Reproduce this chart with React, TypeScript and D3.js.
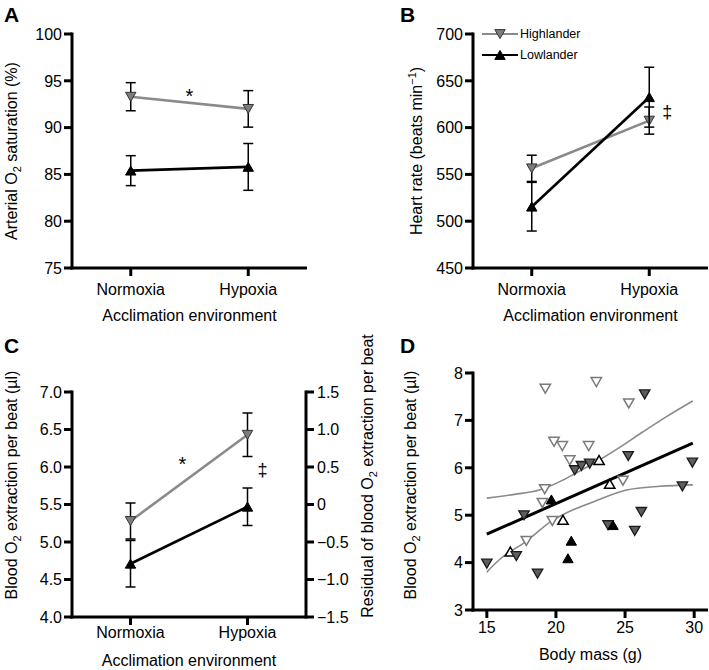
import React from "react";
import * as d3 from "d3";

const categories = ["Normoxia", "Hypoxia"];
const groups = ["Highlander", "Lowlander"];

// Panel A – arterial O2 saturation (%)
const satHigh = [93.3, 92.0];
const satHighErr = [1.5, 1.95];
const satLow = [85.4, 85.8];
const satLowErr = [1.6, 2.5];
const satTicks = [75, 80, 85, 90, 95, 100];

// Panel B – heart rate (beats min-1)
const hrHigh = [556.5, 607.5];
const hrHighErr = [14, 14.5];
const hrLow = [515.5, 632.5];
const hrLowErr = [26, 32];
const hrTicks = [450, 500, 550, 600, 650, 700];

// Panel C – blood O2 extraction per beat (µl)
const extHigh = [5.28, 6.43];
const extHighErr = [0.24, 0.29];
const extLow = [4.71, 5.47];
const extLowErr = [0.31, 0.25];
const extTicks = [4.0, 4.5, 5.0, 5.5, 6.0, 6.5, 7.0];
const residTicks = [-1.5, -1.0, -0.5, 0, 0.5, 1.0, 1.5];

// Panel D – scatter (body mass g, extraction µl)
const highNormX = [19.23, 22.92, 25.27, 19.86, 20.46, 22.37, 21.0, 19.19, 19.02, 24.85, 19.74, 17.86];
const highNormY = [7.67, 7.81, 7.36, 6.55, 6.46, 6.46, 6.16, 5.55, 5.26, 5.73, 4.88, 4.46];
const highHypX = [26.42, 21.36, 21.84, 22.44, 25.23, 29.87, 29.15, 17.69, 26.18, 25.7, 23.77, 17.13, 15.0, 18.67];
const highHypY = [7.55, 5.95, 6.04, 6.09, 6.25, 6.11, 5.61, 5.0, 5.07, 4.67, 4.79, 4.14, 3.98, 3.77];
const lowNormX = [23.12, 23.89, 20.51, 16.7];
const lowNormY = [6.16, 5.66, 4.9, 4.23];
const lowHypX = [19.67, 24.13, 21.11, 20.87];
const lowHypY = [5.33, 4.79, 4.46, 4.09];
const regX = [15, 29.9];
const regY = [4.6, 6.52];
const ciUpX = [15, 17, 18.8, 20.5, 21.4, 22.7, 24.5, 26.3, 28, 29.9];
const ciUpY = [5.36, 5.44, 5.53, 5.74, 5.88, 6.09, 6.41, 6.76, 7.08, 7.41];
const ciLoX = [15, 15.9, 17.9, 19.7, 21.2, 22.7, 25.1, 27.5, 29.9];
const ciLoY = [3.8, 4.06, 4.46, 4.88, 5.11, 5.28, 5.53, 5.61, 5.64];
const massTicks = [15, 20, 25, 30];
const dExtTicks = [3, 4, 5, 6, 7, 8];

const FONT = "Liberation Sans, Arial, Helvetica, sans-serif";
const GRAY_LINE = "#8a8a8a";
const GRAY_FILL = "#7d7d7d";
const DARK_FILL = "#5e5e5e";

const triUp = "M0,-4.6L5.2,4.4L-5.2,4.4Z";
const triDown = "M0,4.6L5.2,-4.4L-5.2,-4.4Z";

function ErrBar({ x, y1, y2 }: { x: number; y1: number; y2: number }) {
  return (
    <g stroke="#000" strokeWidth={1.5}>
      <line x1={x} x2={x} y1={y1} y2={y2} />
      <line x1={x - 5} x2={x + 5} y1={y1} y2={y1} />
      <line x1={x - 5} x2={x + 5} y1={y2} y2={y2} />
    </g>
  );
}

function LeftAxis({ x, y, ticks, fmt }: any) {
  const [r0, r1] = y.range();
  return (
    <g>
      <line x1={x} x2={x} y1={r1 - 1.5} y2={r0 + 1.5} stroke="#000" strokeWidth={3} />
      {ticks.map((t: number) => (
        <g key={t}>
          <line x1={x - 8} x2={x} y1={y(t)} y2={y(t)} stroke="#000" strokeWidth={3} />
          <text x={x - 10} y={y(t)} dy="0.36em" textAnchor="end" fontSize={16}>
            {fmt(t)}
          </text>
        </g>
      ))}
    </g>
  );
}

function CatXAxis({ x, y0, x0, x1, lab, title }: any) {
  return (
    <g>
      <line x1={x0 - 1.5} x2={x1} y1={y0} y2={y0} stroke="#000" strokeWidth={3} />
      {categories.map((c) => (
        <g key={c}>
          <line x1={x(c)} x2={x(c)} y1={y0} y2={y0 + 8} stroke="#000" strokeWidth={3} />
          <text x={x(c)} y={y0 + lab} textAnchor="middle" fontSize={16}>
            {c}
          </text>
        </g>
      ))}
      <text x={(x0 + x1) / 2} y={y0 + title} textAnchor="middle" fontSize={16}>
        Acclimation environment
      </text>
    </g>
  );
}

function Series({ x, y, vals, color }: any) {
  const line = d3
    .line<number>()
    .x((_, i) => x(categories[i]))
    .y((v) => y(v));
  return <path d={line(vals) || ""} fill="none" stroke={color} strokeWidth={2.6} />;
}

function SeriesMarks({ x, y, vals, errs, marker, fill }: any) {
  return (
    <g>
      {vals.map((v: number, i: number) => (
        <ErrBar key={"e" + i} x={x(categories[i])} y1={y(v + errs[i])} y2={y(v - errs[i])} />
      ))}
      {vals.map((v: number, i: number) => (
        <path
          key={"m" + i}
          d={marker}
          transform={`translate(${x(categories[i])},${y(v)})`}
          fill={fill}
          stroke={fill === "#000" ? "#000" : "#333"}
          strokeWidth={1}
        />
      ))}
    </g>
  );
}

function PanelLetter({ x, y, t }: any) {
  return (
    <text x={x} y={y} fontSize={21} fontWeight="bold">
      {t}
    </text>
  );
}

export default function App() {
  // Panel A
  const aX0 = 72, aX1 = 307, aTop = 34, aBot = 268;
  const xA = d3.scalePoint<string>().domain(categories).range([aX0, aX1]).padding(0.5);
  const yA = d3.scaleLinear().domain([75, 100]).range([aBot, aTop]);

  // Panel B
  const bX0 = 473, bX1 = 708;
  const xB = d3.scalePoint<string>().domain(categories).range([bX0, bX1]).padding(0.5);
  const yB = d3.scaleLinear().domain([450, 700]).range([aBot, aTop]);

  // Panel C
  const cX0 = 72, cX1 = 306, cTop = 392, cBot = 617;
  const xC = d3.scalePoint<string>().domain(categories).range([cX0, cX1]).padding(0.5);
  const yC = d3.scaleLinear().domain([4, 7]).range([cBot, cTop]);
  const yCr = d3.scaleLinear().domain([-1.5, 1.5]).range([cBot, cTop]);

  // Panel D
  const dX0 = 473, dX1 = 708, dTop = 373, dBot = 610;
  const xD = d3.scaleLinear().domain([14, 31]).range([dX0, dX1]);
  const yD = d3.scaleLinear().domain([3, 8]).range([dBot, dTop]);
  const upPath =
    d3
      .line<number>()
      .curve(d3.curveMonotoneX)
      .x((_, i) => xD(ciUpX[i]))
      .y((v) => yD(v))(ciUpY) || "";
  const loPath =
    d3
      .line<number>()
      .curve(d3.curveMonotoneX)
      .x((_, i) => xD(ciLoX[i]))
      .y((v) => yD(v))(ciLoY) || "";
  const regPath =
    d3
      .line<number>()
      .x((_, i) => xD(regX[i]))
      .y((v) => yD(v))(regY) || "";

  const f0 = (t: number) => String(t);
  const f1 = (t: number) => t.toFixed(1);
  const fr = (t: number) => (t === 0 ? "0" : (t < 0 ? "\u2212" : "") + Math.abs(t).toFixed(1));

  return (
    <svg
      width={709}
      height={670}
      style={{ position: "absolute", left: 0, top: 0, background: "#fff" }}
      fontFamily={FONT}
    >
      <rect width={709} height={670} fill="#fff" />

      {/* ---------- Panel A ---------- */}
      <PanelLetter x={4} y={22} t="A" />
      <LeftAxis x={aX0} y={yA} ticks={satTicks} fmt={f0} />
      <CatXAxis x={xA} y0={aBot} x0={aX0} x1={aX1} lab={27} title={53} />
      <text transform={`translate(17,${(aTop + aBot) / 2}) rotate(-90)`} textAnchor="middle" fontSize={16}>
        <tspan>Arterial O</tspan>
        <tspan fontSize={11} dy={4}>2</tspan>
        <tspan dy={-4}> saturation (%)</tspan>
      </text>
      <Series x={xA} y={yA} vals={satHigh} color={GRAY_LINE} />
      <Series x={xA} y={yA} vals={satLow} color="#000" />
      <SeriesMarks x={xA} y={yA} vals={satHigh} errs={satHighErr} marker={triDown} fill={GRAY_FILL} />
      <SeriesMarks x={xA} y={yA} vals={satLow} errs={satLowErr} marker={triUp} fill="#000" />
      <text x={(xA("Normoxia")! + xA("Hypoxia")!) / 2} y={yA(92.6)} textAnchor="middle" fontSize={20}>
        *
      </text>

      {/* ---------- Panel B ---------- */}
      <PanelLetter x={400} y={22} t="B" />
      <LeftAxis x={bX0} y={yB} ticks={hrTicks} fmt={f0} />
      <CatXAxis x={xB} y0={aBot} x0={bX0} x1={bX1} lab={27} title={53} />
      <text transform={`translate(422,${(aTop + aBot) / 2}) rotate(-90)`} textAnchor="middle" fontSize={16}>
        <tspan>Heart rate (beats min</tspan>
        <tspan fontSize={11} dy={-6}>{"\u22121"}</tspan>
        <tspan dy={6}>)</tspan>
      </text>
      <Series x={xB} y={yB} vals={hrHigh} color={GRAY_LINE} />
      <Series x={xB} y={yB} vals={hrLow} color="#000" />
      <SeriesMarks x={xB} y={yB} vals={hrHigh} errs={hrHighErr} marker={triDown} fill={GRAY_FILL} />
      <SeriesMarks x={xB} y={yB} vals={hrLow} errs={hrLowErr} marker={triUp} fill="#000" />
      <text x={xB("Hypoxia")! + 18} y={yB(617)} dy="0.35em" textAnchor="middle" fontSize={18}>
        {"\u2021"}
      </text>
      {/* legend */}
      {groups.map((g, i) => {
        const ly = 34 + i * 21;
        const isHigh = i === 0;
        return (
          <g key={g}>
            <line x1={482} x2={518} y1={ly} y2={ly} stroke={isHigh ? GRAY_LINE : "#000"} strokeWidth={2.2} />
            <path
              d={isHigh ? triDown : triUp}
              transform={`translate(500,${ly})`}
              fill={isHigh ? GRAY_FILL : "#000"}
              stroke={isHigh ? "#333" : "#000"}
              strokeWidth={1}
            />
            <text x={520} y={ly} dy="0.35em" fontSize={12.5}>
              {g}
            </text>
          </g>
        );
      })}

      {/* ---------- Panel C ---------- */}
      <PanelLetter x={4} y={353} t="C" />
      <LeftAxis x={cX0} y={yC} ticks={extTicks} fmt={f1} />
      <CatXAxis x={xC} y0={cBot} x0={cX0} x1={cX1} lab={21} title={49} />
      {/* right axis */}
      <line x1={cX1} x2={cX1} y1={cTop - 1.5} y2={cBot + 1.5} stroke="#000" strokeWidth={3} />
      {residTicks.map((t) => (
        <g key={t}>
          <line x1={cX1} x2={cX1 + 8} y1={yCr(t)} y2={yCr(t)} stroke="#000" strokeWidth={3} />
          <text x={cX1 + 11} y={yCr(t)} dy="0.36em" fontSize={16}>
            {fr(t)}
          </text>
        </g>
      ))}
      <text transform={`translate(17,485) rotate(-90)`} textAnchor="middle" fontSize={16}>
        <tspan>Blood O</tspan>
        <tspan fontSize={11} dy={4}>2</tspan>
        <tspan dy={-4}> extraction per beat (µl)</tspan>
      </text>
      <text transform={`translate(373,476) rotate(-90)`} textAnchor="middle" fontSize={16}>
        <tspan>Residual of blood O</tspan>
        <tspan fontSize={11} dy={4}>2</tspan>
        <tspan dy={-4}> extraction per beat</tspan>
      </text>
      <Series x={xC} y={yC} vals={extHigh} color={GRAY_LINE} />
      <Series x={xC} y={yC} vals={extLow} color="#000" />
      <SeriesMarks x={xC} y={yC} vals={extHigh} errs={extHighErr} marker={triDown} fill={GRAY_FILL} />
      <SeriesMarks x={xC} y={yC} vals={extLow} errs={extLowErr} marker={triUp} fill="#000" />
      <text x={xC("Normoxia")! + 52} y={yC(5.95)} textAnchor="middle" fontSize={20}>
        *
      </text>
      <text x={xC("Hypoxia")! + 15} y={yC(5.96)} dy="0.35em" textAnchor="middle" fontSize={18}>
        {"\u2021"}
      </text>

      {/* ---------- Panel D ---------- */}
      <PanelLetter x={400} y={353} t="D" />
      <LeftAxis x={dX0} y={yD} ticks={dExtTicks} fmt={f0} />
      <line x1={dX0 - 1.5} x2={dX1} y1={dBot} y2={dBot} stroke="#000" strokeWidth={3} />
      {massTicks.map((t) => (
        <g key={t}>
          <line x1={xD(t)} x2={xD(t)} y1={dBot} y2={dBot + 8} stroke="#000" strokeWidth={3} />
          <text x={xD(t)} y={dBot + 23} textAnchor="middle" fontSize={16}>
            {t}
          </text>
        </g>
      ))}
      <text x={(dX0 + dX1) / 2} y={dBot + 50} textAnchor="middle" fontSize={16}>
        Body mass (g)
      </text>
      <text transform={`translate(416,485) rotate(-90)`} textAnchor="middle" fontSize={16}>
        <tspan>Blood O</tspan>
        <tspan fontSize={11} dy={4}>2</tspan>
        <tspan dy={-4}> extraction per beat (µl)</tspan>
      </text>
      <path d={upPath} fill="none" stroke={GRAY_LINE} strokeWidth={1.6} />
      <path d={loPath} fill="none" stroke={GRAY_LINE} strokeWidth={1.6} />
      <path d={regPath} fill="none" stroke="#000" strokeWidth={3} />
      {highNormX.map((x, i) => (
        <path key={"hn" + i} d={triDown} transform={`translate(${xD(x)},${yD(highNormY[i])})`} fill="#fff" stroke="#7a7a7a" strokeWidth={1.5} />
      ))}
      {lowNormX.map((x, i) => (
        <path key={"ln" + i} d={triUp} transform={`translate(${xD(x)},${yD(lowNormY[i])})`} fill="#fff" stroke="#000" strokeWidth={1.5} />
      ))}
      {highHypX.map((x, i) => (
        <path key={"hh" + i} d={triDown} transform={`translate(${xD(x)},${yD(highHypY[i])})`} fill={DARK_FILL} stroke="#1a1a1a" strokeWidth={1.3} />
      ))}
      {lowHypX.map((x, i) => (
        <path key={"lh" + i} d={triUp} transform={`translate(${xD(x)},${yD(lowHypY[i])})`} fill="#000" stroke="#000" strokeWidth={1} />
      ))}
    </svg>
  );
}
